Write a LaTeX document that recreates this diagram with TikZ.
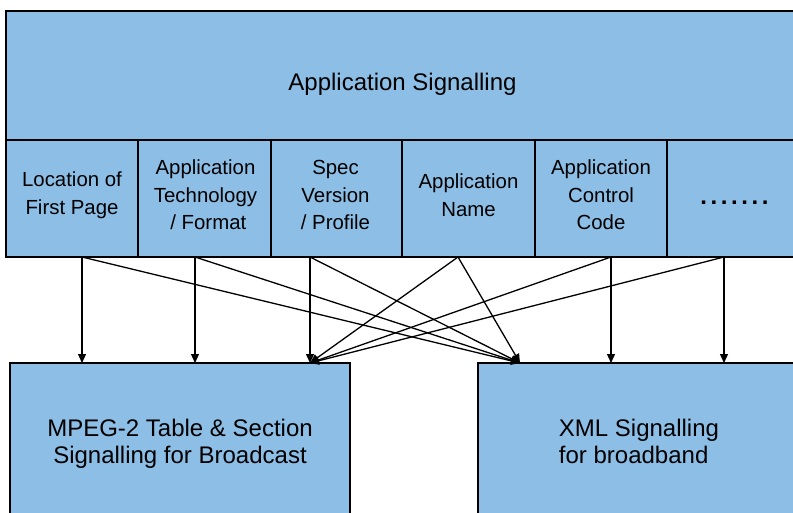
\documentclass[tikz,border=0pt]{standalone}
\usepackage{fontspec}
\setmainfont{Liberation Sans}
\usetikzlibrary{arrows.meta,calc}
\definecolor{boxblue}{RGB}{141,190,230}
\begin{document}
\begin{tikzpicture}[x=1pt,y=-1pt,
  box/.style={draw=black,fill=boxblue,line width=1.8pt,outer sep=0pt,inner sep=0pt,anchor=north west},
  cell/.style={box,minimum height=117pt},
  celltext/.style={inner sep=0pt,align=center,font=\fontsize{20.4}{27.5}\selectfont},
  big/.style={box,font=\fontsize{24}{26.5}\selectfont},
  link/.style={line width=1.3pt,-{Triangle[length=9pt,width=8pt]}}]
\clip (0,0) rectangle (793,513);
\useasboundingbox (0,0) rectangle (793,513);
% header
\node[box,minimum width=793pt,minimum height=129pt,text height=36pt,text depth=5pt,
      font=\fontsize{24}{28}\selectfont] (head) at (6,11) {Application Signalling};
% cells
\node[cell,minimum width=132pt] (c1) at (6,140) {};
\node[cell,minimum width=133pt] (c2) at (138,140) {};
\node[cell,minimum width=131pt] (c3) at (271,140) {};
\node[cell,minimum width=133pt] (c4) at (402,140) {};
\node[cell,minimum width=132pt] (c5) at (535,140) {};
\node[cell,minimum width=133pt] (c6) at (667,140) {};
\node[celltext] (t1) at ([yshift=3.5pt]c1.center) {Location of\\First Page};
\node[celltext] (t2) at ([xshift=1pt,yshift=3.5pt]c2.center) {Application\\Technology\\\ / Format};
\node[celltext] (t3) at ([xshift=-1pt,yshift=3.5pt]c3.center) {Spec\\Version\\/ Profile};
\node[celltext] (t4) at ([yshift=3.5pt]c4.center) {Application\\Name};
\node[celltext] (t5) at ([yshift=3.5pt]c5.center) {Application\\Control\\Code};
\node[celltext,font=\fontsize{24}{28}\selectfont\bfseries\addfontfeature{LetterSpace=15}] (t6)
  at ([xshift=1pt,yshift=-4pt]c6.center) {.......};
% bottom boxes
\node[big,minimum width=340pt,minimum height=161.4pt,align=center] (mpeg) at (10,363)
  {MPEG-2 Table \& Section\\Signalling for Broadcast};
\node[big,minimum width=322pt,minimum height=156.4pt,align=left] (xml) at (478,363)
  {XML Signalling\\for broadband};
% start points
\coordinate (s1) at ([xshift=76pt]c1.south west);
\coordinate (s2) at ([xshift=57pt]c2.south west);
\coordinate (s3) at ([xshift=39pt]c3.south west);
\coordinate (s4) at ([xshift=56pt]c4.south west);
\coordinate (s5) at ([xshift=76pt]c5.south west);
\coordinate (s6) at ([xshift=57pt]c6.south west);
% end points
\coordinate (m1) at ([xshift=72pt]mpeg.north west);
\coordinate (m2) at ([xshift=185pt]mpeg.north west);
\coordinate (m3) at ([xshift=300pt]mpeg.north west);
\coordinate (x1) at ([xshift=42pt]xml.north west);
\coordinate (x2) at ([xshift=133pt]xml.north west);
\coordinate (x3) at ([xshift=246pt]xml.north west);
% connectors
\draw[link] (s1) -- (m1);
\draw[link] (s2) -- (m2);
\draw[link] (s3) -- (m3);
\draw[link] (s5) -- (x2);
\draw[link] (s6) -- (x3);
\draw[link] (s1) -- (x1);
\draw[link] (s2) -- (x1);
\draw[link] (s3) -- (x1);
\draw[link] (s4) -- (x1);
\draw[link] (s4) -- (m3);
\draw[link] (s5) -- (m3);
\draw[link] (s6) -- (m3);
\end{tikzpicture}
\end{document}
